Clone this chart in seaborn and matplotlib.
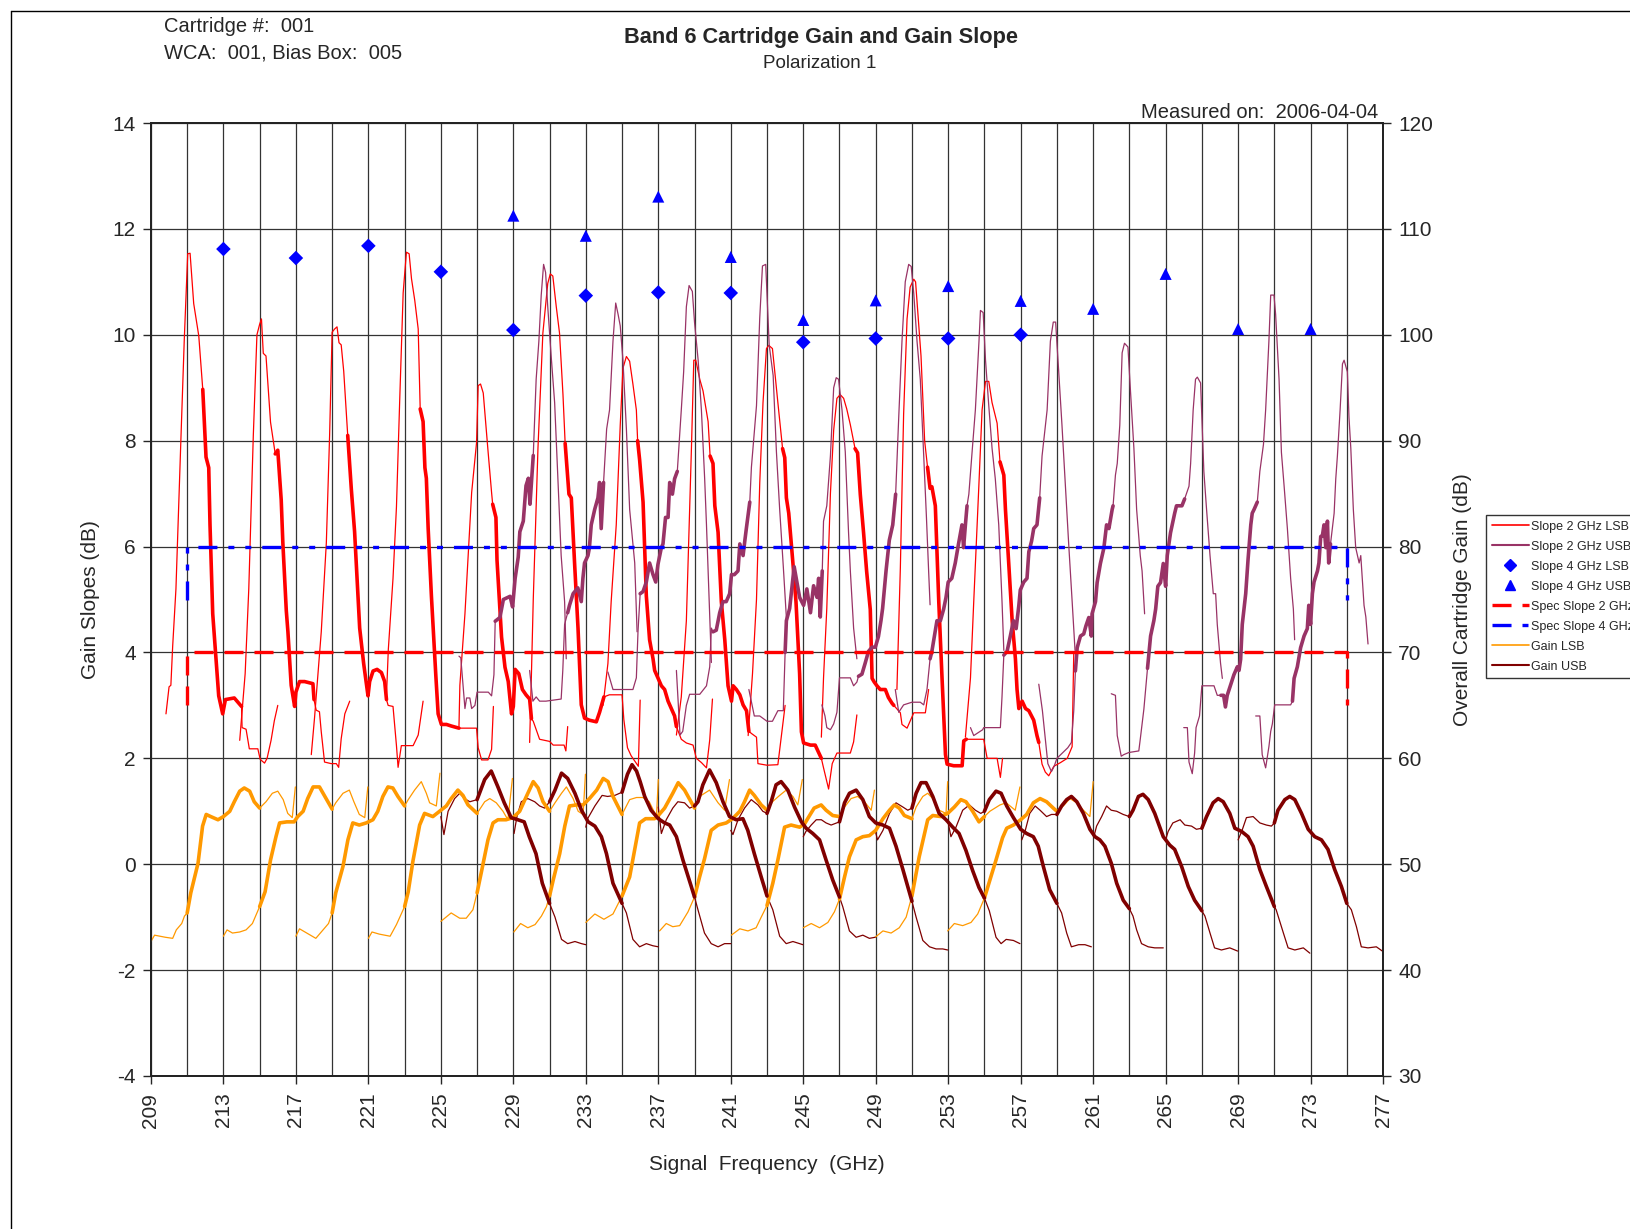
import numpy as np
import pandas as pd
import matplotlib
matplotlib.use("Agg")
import matplotlib.pyplot as plt
from matplotlib.lines import Line2D
import seaborn as sns

# ---------------- data ----------------
lo_freqs = [221, 225, 229, 233, 237, 241, 245, 249, 253, 257, 261, 265]

# Gain LSB (dB), one list per LO setting
gain_lsb_freq = [
    [209.0, 209.2, 209.5, 209.8, 210.2, 210.4, 210.7, 210.85, 211.0, 211.2, 211.6, 211.85, 212.05, 212.3, 212.7, 213.0, 213.35, 213.6, 213.9, 214.15, 214.45, 214.7, 215.0, 215.35, 215.7, 216.0, 216.3, 216.55, 216.8, 216.97],
    [213.0, 213.2, 213.5, 213.9, 214.25, 214.6, 215.0, 215.3, 215.6, 215.9, 216.1, 216.5, 216.9, 217.1, 217.4, 217.65, 217.95, 218.3, 218.6, 219.0, 219.2, 219.6, 219.95, 220.2, 220.5, 220.8, 220.97],
    [217.0, 217.2, 217.6, 218.1, 218.4, 218.8, 219.0, 219.2, 219.6, 219.87, 220.14, 220.5, 220.88, 221.25, 221.52, 221.8, 222.08, 222.35, 222.63, 223.0, 223.2, 223.55, 223.92, 224.2, 224.38, 224.75, 224.95],
    [221.0, 221.2, 221.6, 222.2, 222.55, 223.0, 223.2, 223.46, 223.83, 224.1, 224.56, 224.93, 225.3, 225.57, 225.94, 226.22, 226.5, 227.0, 227.42, 227.7, 228.06, 228.43, 228.7, 228.95],
    [225.0, 225.57, 226.04, 226.4, 226.77, 227.0, 227.23, 227.6, 227.88, 228.15, 228.6, 228.98, 229.35, 229.72, 230.1, 230.37, 230.64, 231.0, 231.3, 231.66, 231.93, 232.3, 232.58, 232.85, 232.98],
    [229.03, 229.4, 229.8, 230.2, 230.55, 230.83, 231.0, 231.2, 231.56, 231.84, 232.1, 232.48, 232.85, 233.2, 233.6, 233.96, 234.23, 234.5, 235.0, 235.42, 235.8, 236.15, 236.5, 236.9, 237.0],
    [233.0, 233.5, 234.0, 234.5, 235.0, 235.42, 235.97, 236.3, 236.8, 237.0, 237.35, 237.8, 238.1, 238.45, 239.0, 239.37, 239.83, 240.3, 240.66, 240.93],
    [237.07, 237.44, 237.8, 238.18, 238.64, 239.0, 239.28, 239.55, 239.92, 240.3, 240.75, 241.1, 241.5, 241.76, 242.04, 242.3, 242.68, 243.0, 243.3, 243.7, 244.06, 244.43, 244.7, 244.95],
    [241.03, 241.5, 241.95, 242.4, 242.68, 243.0, 243.32, 243.6, 243.97, 244.33, 244.8, 245.07, 245.35, 245.6, 245.99, 246.26, 246.63, 247.0, 247.28, 247.64, 248.0, 248.38, 248.75, 248.93],
    [245.0, 245.44, 245.9, 246.36, 246.72, 247.0, 247.28, 247.55, 247.92, 248.29, 248.65, 249.0, 249.4, 249.76, 250.03, 250.3, 250.58, 251.0, 251.23, 251.6, 251.87, 252.15, 252.5, 252.88, 252.97],
    [248.97, 249.4, 249.85, 250.3, 250.68, 251.0, 251.4, 251.87, 252.15, 252.6, 252.97, 253.34, 253.7, 253.98, 254.35, 254.7, 255.0, 255.3, 255.86, 256.2, 256.7, 256.96],
    [252.97, 253.34, 253.8, 254.26, 254.63, 255.0, 255.3, 255.64, 256.0, 256.23, 256.6, 257.0, 257.33, 257.7, 258.07, 258.43, 258.8, 259.0, 259.35, 259.72, 260.1, 260.46, 260.82, 261.0],
]
gain_lsb_db = [
    [42.7, 43.3, 43.2, 43.1, 43.0, 43.8, 44.4, 45.1, 45.4, 47.3, 50.1, 53.6, 54.7, 54.5, 54.2, 54.5, 55.0, 55.9, 56.9, 57.2, 56.9, 55.9, 55.3, 55.9, 56.7, 56.9, 56.1, 54.8, 54.4, 57.3],
    [43.2, 43.8, 43.5, 43.6, 43.8, 44.4, 46.0, 47.4, 50.4, 52.6, 53.9, 54.0, 54.0, 54.5, 55.0, 56.2, 57.3, 57.3, 56.4, 55.2, 55.8, 56.7, 57.0, 55.9, 54.7, 54.4, 57.3],
    [43.2, 43.9, 43.5, 43.0, 43.6, 44.4, 45.4, 47.3, 49.8, 52.3, 53.9, 53.7, 53.9, 54.2, 55.0, 56.4, 57.3, 57.2, 56.4, 55.5, 56.1, 57.0, 57.8, 56.7, 55.8, 55.5, 58.6],
    [43.0, 43.6, 43.4, 43.2, 44.3, 46.0, 47.4, 50.3, 53.7, 54.8, 54.5, 55.0, 55.5, 56.2, 57.0, 56.5, 55.6, 54.8, 55.9, 56.2, 55.8, 55.0, 54.2, 58.1],
    [44.6, 45.4, 44.9, 44.9, 45.7, 47.3, 49.2, 52.3, 53.9, 54.2, 54.2, 54.4, 55.0, 56.4, 57.8, 57.2, 55.9, 55.0, 55.8, 56.7, 57.3, 56.2, 55.0, 54.7, 58.5],
    [43.6, 44.4, 44.0, 44.3, 45.1, 46.0, 47.0, 48.5, 51.0, 53.6, 55.5, 55.6, 55.6, 56.2, 57.0, 58.1, 57.8, 56.4, 54.7, 56.1, 56.3, 56.3, 55.9, 54.5, 58.0],
    [44.5, 45.3, 44.8, 45.3, 47.0, 48.8, 53.9, 54.3, 54.3, 54.6, 55.3, 56.7, 57.7, 57.0, 55.3, 56.5, 57.0, 55.8, 55.1, 58.0],
    [43.7, 44.4, 44.1, 44.2, 45.5, 46.9, 48.8, 50.5, 53.2, 53.7, 53.9, 54.3, 55.0, 55.9, 57.0, 56.5, 55.6, 55.1, 55.9, 56.5, 57.0, 56.4, 55.6, 58.0],
    [43.3, 43.9, 43.7, 44.0, 45.0, 46.1, 48.2, 50.4, 53.5, 53.7, 53.5, 53.8, 54.6, 55.3, 55.6, 55.1, 54.6, 54.5, 55.4, 56.2, 56.4, 55.9, 55.1, 57.0],
    [44.0, 44.4, 44.0, 44.5, 45.5, 46.7, 48.8, 50.7, 52.3, 52.6, 52.7, 53.2, 54.3, 55.1, 55.6, 55.3, 54.6, 54.3, 55.4, 56.4, 56.7, 56.2, 55.1, 54.8, 57.8],
    [43.1, 43.7, 43.5, 44.0, 45.0, 47.0, 50.7, 54.2, 54.6, 54.5, 54.8, 55.4, 56.1, 55.9, 55.0, 54.0, 54.5, 55.0, 55.6, 55.8, 55.1, 57.3],
    [43.7, 44.4, 44.2, 44.5, 45.3, 46.8, 48.5, 50.4, 52.5, 53.4, 53.7, 54.2, 54.7, 55.8, 56.2, 55.9, 55.3, 55.0, 55.5, 56.2, 55.8, 55.1, 54.5, 57.8],
]

# Gain USB (dB)
gain_usb_freq = [
    [225.0, 225.17, 225.4, 225.76, 226.04, 226.3, 226.6, 227.0, 227.42, 227.78, 228.15, 228.5, 228.88, 229.25, 229.6, 229.88, 230.25, 230.6, 231.0, 231.3, 231.66, 232.0, 232.4, 232.76, 233.0],
    [229.04, 229.2, 229.44, 229.8, 230.18, 230.45, 230.73, 231.0, 231.3, 231.66, 232.0, 232.4, 232.76, 233.13, 233.5, 233.86, 234.14, 234.5, 235.0, 235.24, 235.6, 235.97, 236.34, 236.7, 237.0],
    [233.0, 233.1, 233.5, 233.9, 234.2, 234.6, 235.0, 235.3, 235.55, 235.8, 236.0, 236.25, 236.6, 237.0, 237.35, 237.63, 238.0, 238.36, 238.82, 239.0, 239.19, 239.55, 239.92, 240.3, 240.66, 241.0],
    [237.0, 237.17, 237.44, 237.8, 238.08, 238.45, 238.73, 239.0, 239.19, 239.46, 239.83, 240.2, 240.57, 240.93, 241.3, 241.67, 241.94, 242.3, 242.68, 243.0, 243.32, 243.7, 244.06, 244.43, 244.8, 244.98],
    [241.0, 241.12, 241.4, 241.76, 242.13, 242.5, 242.77, 243.0, 243.23, 243.5, 243.78, 244.15, 244.52, 244.9, 245.16, 245.53, 245.9, 246.26, 246.63, 247.0, 247.18, 247.55, 247.92, 248.29, 248.65, 248.97],
    [245.0, 245.15, 245.44, 245.72, 246.0, 246.26, 246.54, 247.0, 247.28, 247.55, 247.92, 248.29, 248.65, 249.0, 249.4, 249.76, 250.12, 250.5, 251.0, 251.23, 251.6, 251.97, 252.33, 252.7, 252.97],
    [248.97, 249.1, 249.4, 249.76, 250.12, 250.5, 250.77, 251.0, 251.23, 251.5, 251.78, 252.15, 252.5, 252.88, 253.25, 253.6, 253.98, 254.35, 254.7, 255.0, 255.27, 255.64, 255.92, 256.2, 256.6, 256.96],
    [252.97, 253.15, 253.43, 253.8, 254.17, 254.5, 254.8, 255.0, 255.27, 255.64, 255.92, 256.23, 256.6, 257.0, 257.33, 257.7, 257.97, 258.25, 258.6, 259.0, 259.26, 259.54, 259.8, 260.2, 260.55, 260.9],
    [257.06, 257.24, 257.5, 257.8, 258.07, 258.43, 258.7, 259.0, 259.26, 259.54, 259.8, 260.1, 260.46, 260.82, 261.1, 261.37, 261.65, 262.0, 262.3, 262.66, 263.0, 263.2, 263.4, 263.67, 264.04, 264.4, 264.87],
    [261.04, 261.19, 261.47, 261.74, 262.0, 262.3, 262.66, 263.0, 263.2, 263.5, 263.75, 264.04, 264.4, 264.87, 265.23, 265.5, 265.88, 266.25, 266.6, 267.0, 267.17, 267.45, 267.7, 268.08, 268.54, 268.97],
    [265.0, 265.14, 265.4, 265.8, 266.06, 266.43, 266.7, 267.0, 267.26, 267.62, 267.9, 268.18, 268.54, 268.82, 269.19, 269.55, 269.83, 270.2, 270.56, 271.0, 271.1, 271.5, 271.76, 272.13, 272.6, 272.96],
    [269.0, 269.2, 269.46, 269.83, 270.2, 270.56, 270.84, 271.0, 271.2, 271.58, 271.85, 272.13, 272.5, 272.87, 273.23, 273.6, 273.96, 274.33, 274.7, 275.0, 275.25, 275.53, 275.8, 276.17, 276.63, 276.96],
]
gain_usb_db = [
    [54.5, 52.8, 55.0, 56.2, 56.7, 56.2, 55.9, 56.1, 58.0, 58.8, 57.3, 55.8, 54.4, 54.2, 54.0, 52.6, 51.0, 48.2, 46.3, 45.0, 42.9, 42.5, 42.7, 42.5, 42.4],
    [52.9, 54.5, 55.9, 56.2, 55.9, 55.5, 55.3, 55.9, 57.0, 58.6, 58.1, 56.7, 55.1, 54.0, 53.6, 52.6, 51.0, 48.2, 46.3, 45.4, 42.9, 42.2, 42.5, 42.3, 42.2],
    [53.5, 54.3, 55.5, 56.5, 56.4, 56.5, 56.8, 58.5, 59.4, 58.8, 57.8, 56.4, 55.1, 54.3, 53.9, 53.7, 52.6, 50.4, 47.9, 46.9, 45.7, 43.5, 42.5, 42.2, 42.5, 42.5],
    [55.4, 52.9, 54.2, 55.3, 55.9, 55.8, 55.3, 55.5, 55.9, 57.5, 58.9, 57.7, 55.9, 54.5, 54.2, 54.3, 53.2, 51.0, 48.8, 47.0, 45.7, 43.2, 42.5, 42.7, 42.5, 42.4],
    [53.2, 52.8, 54.2, 55.3, 56.1, 55.6, 55.0, 54.8, 55.9, 57.5, 57.8, 57.0, 55.4, 54.0, 53.4, 52.9, 52.3, 50.4, 48.5, 46.9, 46.0, 43.7, 43.1, 43.3, 43.0, 43.1],
    [52.6, 53.1, 53.7, 54.2, 54.2, 53.9, 53.7, 54.0, 55.8, 56.7, 57.0, 56.1, 54.5, 53.9, 53.7, 53.4, 51.7, 49.5, 46.5, 45.0, 42.8, 42.2, 42.0, 42.0, 41.9],
    [53.2, 52.3, 53.2, 54.8, 55.8, 55.4, 55.1, 55.3, 56.7, 57.7, 57.7, 56.4, 54.8, 54.2, 53.5, 52.9, 51.3, 49.4, 47.8, 46.8, 45.6, 43.1, 42.5, 42.9, 42.8, 42.5],
    [54.2, 52.6, 53.5, 55.1, 55.6, 55.1, 54.8, 55.0, 56.1, 56.9, 56.7, 55.5, 54.4, 53.3, 52.9, 52.6, 51.7, 49.8, 47.6, 46.3, 45.4, 43.5, 42.2, 42.4, 42.4, 42.2],
    [52.3, 53.1, 54.8, 55.5, 55.1, 54.5, 54.7, 54.7, 55.5, 56.1, 56.4, 55.9, 54.8, 53.3, 52.6, 52.3, 51.7, 50.1, 48.2, 46.6, 45.8, 45.1, 43.8, 42.5, 42.2, 42.1, 42.1],
    [52.6, 53.6, 54.5, 55.5, 55.1, 55.0, 54.7, 54.5, 55.1, 56.4, 56.6, 56.1, 54.8, 52.6, 51.8, 51.4, 49.8, 47.9, 46.6, 45.6, 45.1, 43.5, 42.1, 41.9, 42.1, 41.8],
    [52.3, 53.1, 53.9, 54.2, 53.7, 53.6, 53.3, 53.4, 54.5, 55.8, 56.2, 55.9, 54.8, 53.4, 53.1, 52.6, 51.7, 49.5, 47.9, 46.0, 45.7, 43.5, 42.1, 41.9, 42.1, 41.6],
    [52.3, 53.1, 54.4, 54.5, 53.9, 53.7, 53.6, 53.9, 55.1, 56.1, 56.4, 56.1, 54.8, 53.3, 52.6, 52.3, 51.4, 49.5, 47.9, 46.3, 45.7, 44.1, 42.2, 42.1, 42.2, 41.8],
]

# Slope 2 GHz LSB (dB)
slope_lsb_freq = [
    [209.83, 210.0, 210.1, 210.2, 210.38, 210.66, 210.84, 211.03, 211.16, 211.36, 211.64, 211.86, 212.04, 212.19, 212.26, 212.41, 212.74, 212.96, 213.11, 213.6, 214.0, 214.03, 214.25, 214.43, 214.9, 215.03, 215.27, 215.41, 215.63, 215.81, 216.0],
    [213.9, 214.2, 214.4, 214.65, 214.85, 215.0, 215.1, 215.2, 215.35, 215.6, 215.86, 216.0, 216.19, 216.28, 216.47, 216.56, 216.74, 216.93, 217.0, 217.2, 217.48, 217.94, 218.0, 218.12, 218.3, 218.4, 218.58, 218.95, 219.23, 219.36, 219.5, 219.7, 219.97],
    [217.85, 218.03, 218.4, 218.68, 218.86, 219.0, 219.14, 219.27, 219.38, 219.5, 219.64, 219.86, 220.06, 220.24, 220.52, 220.74, 220.98, 221.07, 221.26, 221.48, 221.72, 221.9, 222.0, 222.09, 222.36, 222.55, 222.64, 222.82, 223.47, 223.75, 224.02],
    [222.0, 222.1, 222.36, 222.55, 222.73, 222.92, 223.1, 223.25, 223.38, 223.56, 223.75, 223.86, 224.02, 224.12, 224.2, 224.3, 224.48, 224.72, 224.85, 225.03, 225.31, 225.58, 226.0, 226.97, 227.06, 227.25, 227.6, 227.8, 227.9],
    [226.0, 226.05, 226.33, 226.7, 226.97, 227.06, 227.19, 227.34, 227.6, 227.8, 227.86, 228.04, 228.1, 228.35, 228.54, 228.72, 228.9, 229.0, 229.1, 229.3, 229.5, 229.7, 229.9, 230.0, 230.1, 230.45, 231.0, 231.2, 231.8, 231.9, 232.0],
    [229.9, 230.0, 230.1, 230.36, 230.63, 230.9, 231.04, 231.18, 231.37, 231.55, 231.74, 231.86, 232.07, 232.2, 232.38, 232.57, 232.75, 232.93, 233.2, 233.58, 233.76, 234.0, 234.3, 235.0, 235.1, 235.3, 235.5, 235.9, 236.0],
    [233.95, 234.22, 234.4, 234.68, 234.9, 235.05, 235.24, 235.42, 235.6, 235.79, 235.86, 235.97, 236.16, 236.34, 236.52, 236.71, 236.8, 236.98, 237.17, 237.35, 237.54, 237.72, 237.9, 238.0, 238.27, 238.55, 238.92, 239.1, 239.38, 239.66, 239.84, 239.99],
    [238.0, 238.27, 238.55, 238.83, 238.96, 239.07, 239.29, 239.47, 239.75, 239.86, 240.02, 240.12, 240.3, 240.48, 240.67, 240.85, 241.04, 241.13, 241.31, 241.5, 241.68, 241.87, 242.0, 242.14, 242.42, 242.5, 243.0, 243.6, 243.75, 244.0],
    [241.96, 242.2, 242.42, 242.6, 242.78, 242.97, 243.1, 243.3, 243.43, 243.6, 243.86, 243.98, 244.07, 244.2, 244.43, 244.6, 244.8, 244.9, 245.02, 245.4, 245.66, 245.85, 246.0, 246.1, 246.4, 246.6, 246.86, 247.6, 247.78, 247.96],
    [246.0, 246.12, 246.3, 246.5, 246.68, 246.86, 247.04, 247.23, 247.4, 247.6, 247.86, 248.0, 248.15, 248.33, 248.5, 248.7, 248.8, 248.92, 249.07, 249.25, 249.53, 249.7, 249.9, 250.0, 250.36, 250.45, 250.73, 251.1, 251.74, 251.83, 251.92],
    [250.17, 250.36, 250.54, 250.73, 250.9, 251.1, 251.2, 251.35, 251.5, 251.7, 251.86, 252.0, 252.1, 252.29, 252.48, 252.66, 252.85, 252.94, 253.3, 253.77, 253.86, 254.0, 254.41, 254.96, 255.15, 255.7, 255.88, 256.0],
    [253.95, 254.23, 254.41, 254.69, 254.87, 255.06, 255.24, 255.42, 255.7, 255.86, 256.07, 256.16, 256.34, 256.53, 256.71, 256.8, 256.9, 257.08, 257.27, 257.45, 257.72, 257.9, 258.0, 258.18, 258.36, 258.55, 258.83, 259.2, 259.57, 259.84, 259.93],
]
slope_lsb_val = [
    [2.84, 3.35, 3.38, 4.12, 5.2, 8.09, 9.91, 11.53, 11.54, 10.59, 9.98, 8.97, 7.69, 7.49, 6.41, 4.73, 3.18, 2.84, 3.11, 3.14, 2.98, 2.58, 2.55, 2.18, 2.18, 1.98, 1.91, 2.0, 2.34, 2.71, 3.0],
    [2.34, 3.6, 5.2, 8.1, 10.0, 10.2, 10.3, 9.65, 9.6, 8.35, 7.75, 7.82, 6.88, 6.07, 4.79, 4.39, 3.38, 2.98, 3.25, 3.45, 3.45, 3.41, 3.11, 2.91, 2.88, 2.5, 1.93, 1.9, 1.9, 1.83, 2.37, 2.84, 3.08],
    [2.07, 2.77, 4.39, 6.07, 8.09, 10.05, 10.11, 10.15, 9.85, 9.81, 9.31, 8.1, 7.08, 6.28, 4.46, 3.79, 3.18, 3.45, 3.65, 3.68, 3.62, 3.45, 3.11, 3.0, 2.98, 2.24, 1.83, 2.24, 2.24, 2.44, 3.08],
    [3.18, 4.05, 5.4, 6.75, 8.77, 10.79, 11.56, 11.53, 11.06, 10.65, 10.11, 8.6, 8.36, 7.49, 7.29, 6.34, 5.06, 3.58, 2.84, 2.64, 2.64, 2.61, 2.57, 2.57, 2.2, 1.97, 1.97, 2.17, 2.98],
    [2.6, 3.38, 4.73, 7.02, 7.96, 9.04, 9.07, 8.9, 7.82, 7.02, 6.8, 6.55, 5.74, 4.29, 3.72, 3.45, 2.84, 2.98, 3.68, 3.6, 3.3, 3.2, 3.12, 2.75, 2.7, 2.36, 2.32, 2.25, 2.25, 2.14, 2.6],
    [2.3, 3.6, 5.0, 7.86, 10.03, 10.97, 11.15, 11.11, 10.53, 10.03, 8.87, 7.95, 6.99, 6.92, 5.69, 4.46, 3.01, 2.76, 2.72, 2.69, 2.87, 3.16, 3.2, 3.2, 2.73, 2.2, 2.05, 1.85, 3.1],
    [3.0, 3.79, 4.96, 6.41, 8.29, 9.37, 9.59, 9.5, 9.07, 8.58, 8.0, 7.64, 6.84, 5.07, 4.24, 3.88, 3.66, 3.52, 3.37, 3.3, 3.08, 2.94, 2.8, 2.6, 2.36, 2.29, 2.25, 2.0, 1.92, 1.82, 2.35, 3.12],
    [2.44, 3.16, 4.6, 7.86, 9.52, 9.52, 9.16, 8.94, 8.36, 7.71, 7.57, 6.77, 6.27, 4.96, 4.24, 3.37, 3.08, 3.37, 3.3, 3.2, 3.01, 2.9, 2.51, 2.47, 2.4, 1.9, 1.87, 1.88, 2.3, 3.0],
    [2.43, 3.6, 5.0, 7.2, 8.72, 9.74, 9.8, 9.74, 9.3, 8.72, 7.85, 7.68, 6.92, 6.63, 5.69, 4.96, 3.6, 2.5, 2.29, 2.25, 2.25, 2.11, 2.0, 1.85, 1.42, 1.9, 2.1, 2.1, 2.31, 2.82],
    [2.4, 3.52, 4.83, 7.0, 8.2, 8.8, 8.87, 8.8, 8.6, 8.3, 7.85, 7.77, 6.98, 6.26, 5.53, 4.81, 3.51, 3.44, 3.37, 3.3, 3.3, 3.15, 3.04, 3.0, 2.86, 2.64, 2.57, 2.86, 2.86, 3.08, 3.3],
    [3.3, 5.6, 8.5, 10.3, 10.9, 11.05, 11.0, 10.3, 9.6, 8.0, 7.5, 7.1, 7.13, 6.77, 4.96, 3.52, 2.07, 1.89, 1.86, 1.86, 2.33, 2.36, 2.36, 2.36, 2.0, 2.0, 1.64, 2.0],
    [2.4, 3.52, 4.96, 7.13, 8.58, 9.12, 9.12, 8.72, 8.33, 7.6, 7.35, 6.7, 5.69, 4.6, 3.88, 3.3, 2.94, 3.08, 2.94, 2.9, 2.72, 2.43, 2.3, 1.89, 1.74, 1.67, 1.85, 1.92, 2.0, 2.22, 4.0],
]

# Slope 2 GHz USB (dB)
slope_usb_freq = [
    [226.0, 226.1, 226.33, 226.42, 226.6, 226.7, 226.88, 227.0, 227.62, 227.8, 227.93, 228.0, 228.26, 228.45, 228.82, 228.96, 229.1, 229.27, 229.36, 229.55, 229.7, 229.83, 229.92, 230.1, 230.26, 230.41, 230.54, 230.67, 230.78, 230.9, 231.09, 231.28, 231.46, 231.64, 231.83, 231.92],
    [229.9, 230.08, 230.26, 230.45, 230.8, 231.64, 231.73, 231.83, 232.0, 232.1, 232.3, 232.56, 232.75, 232.84, 232.93, 233.12, 233.2, 233.3, 233.49, 233.67, 233.76, 233.85, 233.98, 234.15, 234.31, 234.5, 234.65, 234.78, 234.9, 235.05, 235.24, 235.42, 235.7, 235.83],
    [234.22, 234.5, 234.68, 235.6, 235.79, 235.88, 236.0, 236.16, 236.34, 236.52, 236.71, 236.86, 236.98, 237.17, 237.26, 237.4, 237.54, 237.63, 237.78, 237.9, 238.05, 238.27, 238.4, 238.55, 238.7, 238.88, 239.0, 239.2, 239.38, 239.56, 239.66, 239.84, 239.93],
    [238.0, 238.2, 238.35, 238.55, 238.73, 239.29, 239.66, 239.84, 239.93, 240.02, 240.2, 240.39, 240.57, 240.75, 240.94, 241.04, 241.2, 241.4, 241.5, 241.68, 241.78, 241.86, 242.05, 242.14, 242.42, 242.6, 242.75, 242.93, 243.12, 243.34, 243.52, 243.7, 243.9, 244.08],
    [242.0, 242.3, 242.6, 243.0, 243.3, 243.6, 243.9, 244.0, 244.07, 244.25, 244.5, 244.8, 245.02, 245.2, 245.4, 245.57, 245.76, 245.85, 245.94, 246.05, 246.12, 246.3, 246.5, 246.68, 246.82, 246.95, 247.14, 247.32, 247.5, 247.6, 247.78, 247.96],
    [246.03, 246.2, 246.3, 246.5, 246.68, 246.86, 247.0, 247.6, 247.78, 247.96, 248.05, 248.24, 248.42, 248.6, 248.8, 248.98, 249.15, 249.29, 249.38, 249.57, 249.75, 249.94, 250.1, 250.27, 250.45, 250.63, 250.82, 250.96, 251.1, 251.28, 251.46, 251.65, 251.8, 251.92, 252.0],
    [250.08, 250.27, 250.54, 251.0, 251.46, 251.65, 251.83, 252.0, 252.1, 252.38, 252.57, 252.75, 252.88, 253.0, 253.2, 253.39, 253.57, 253.76, 253.85, 253.95, 254.04, 254.14, 254.32, 254.5, 254.7, 254.78, 254.93, 255.06, 255.24, 255.42, 255.6, 255.79, 255.88, 255.97, 256.07],
    [254.23, 254.41, 254.9, 254.96, 255.88, 255.97, 256.07, 256.25, 256.43, 256.6, 256.75, 256.9, 256.98, 257.17, 257.35, 257.45, 257.6, 257.72, 257.9, 258.05, 258.18, 258.46, 258.64, 258.8, 258.93, 259.1, 259.28, 259.47, 259.65, 259.84, 260.0],
    [258.0, 258.2, 258.5, 258.7, 258.85, 259.0, 259.6, 259.8, 259.93, 260.02, 260.12, 260.3, 260.48, 260.6, 260.76, 260.9, 260.94, 261.13, 261.22, 261.4, 261.59, 261.74, 261.87, 262.05, 262.1, 262.23, 262.33, 262.47, 262.6, 262.73, 262.92, 263.06, 263.25, 263.4, 263.6, 263.7, 263.84],
    [262.0, 262.23, 262.33, 262.55, 262.69, 262.97, 263.52, 263.6, 263.8, 264.0, 264.17, 264.35, 264.45, 264.57, 264.72, 264.87, 265.0, 265.09, 265.27, 265.5, 265.6, 265.73, 265.9, 266.05, 266.29, 266.38, 266.52, 266.65, 266.75, 266.93, 267.11, 267.26, 267.45, 267.63, 267.76, 267.85, 268.03, 268.13],
    [266.0, 266.2, 266.29, 266.47, 266.6, 266.68, 266.87, 267.0, 267.67, 267.85, 268.05, 268.2, 268.3, 268.4, 268.6, 268.77, 268.96, 269.05, 269.14, 269.23, 269.42, 269.55, 269.7, 269.78, 269.88, 270.06, 270.2, 270.4, 270.52, 270.7, 270.8, 270.98, 271.07, 271.26, 271.39, 271.54, 271.72, 271.9, 272.05, 272.12],
    [269.97, 270.2, 270.33, 270.52, 270.7, 270.8, 270.89, 271.02, 271.9, 272.0, 272.09, 272.27, 272.45, 272.64, 272.82, 272.9, 273.0, 273.1, 273.19, 273.38, 273.46, 273.56, 273.65, 273.74, 273.84, 273.93, 274.0, 274.1, 274.3, 274.39, 274.48, 274.63, 274.76, 274.85, 275.03, 275.12, 275.22, 275.36, 275.49, 275.68, 275.77, 275.95, 276.05, 276.17],
]
slope_usb_val = [
    [3.93, 3.9, 2.94, 3.14, 3.14, 2.94, 3.0, 3.25, 3.25, 3.18, 3.58, 4.59, 4.66, 5.0, 5.06, 4.86, 5.4, 5.8, 6.28, 6.48, 7.15, 7.29, 6.8, 7.72, 9.16, 9.88, 10.75, 11.33, 11.18, 10.53, 9.59, 8.72, 7.28, 5.83, 4.96, 3.88],
    [3.66, 3.08, 3.16, 3.08, 3.08, 3.12, 3.66, 4.53, 4.75, 4.89, 5.11, 5.22, 4.96, 5.4, 5.69, 5.83, 5.98, 6.41, 6.7, 6.92, 7.21, 6.34, 7.21, 8.22, 8.58, 9.88, 10.6, 10.39, 10.17, 9.52, 8.22, 6.7, 5.69, 4.39],
    [3.63, 3.3, 3.3, 3.3, 3.52, 4.39, 5.11, 5.15, 5.33, 5.69, 5.47, 5.33, 5.66, 5.98, 6.05, 6.55, 6.55, 7.21, 6.99, 7.28, 7.42, 8.58, 9.3, 10.53, 10.93, 10.82, 10.24, 9.52, 8.58, 7.28, 6.41, 4.68, 3.81],
    [3.66, 2.44, 2.51, 3.0, 3.21, 3.21, 3.37, 3.73, 4.46, 4.39, 4.42, 4.75, 4.96, 4.96, 5.11, 5.47, 5.47, 5.54, 6.05, 5.83, 6.12, 6.34, 6.84, 7.5, 8.66, 10.32, 11.3, 11.33, 9.81, 9.23, 7.79, 6.7, 5.62, 4.6],
    [3.3, 2.8, 2.8, 2.7, 2.7, 2.9, 2.9, 4.0, 4.6, 4.83, 5.62, 5.04, 4.89, 5.2, 4.75, 5.26, 5.04, 5.4, 4.67, 5.54, 6.48, 6.77, 7.71, 9.0, 9.19, 9.16, 8.58, 7.79, 6.27, 5.54, 4.46, 3.88],
    [3.01, 2.8, 2.58, 2.54, 2.65, 2.87, 3.52, 3.52, 3.37, 3.44, 3.55, 3.59, 3.8, 4.02, 4.1, 4.1, 4.3, 4.6, 4.83, 5.54, 6.12, 6.41, 6.99, 8.44, 9.88, 11.0, 11.33, 11.29, 10.78, 9.88, 9.16, 7.71, 6.55, 5.54, 4.9],
    [3.3, 2.87, 3.01, 3.06, 3.06, 3.01, 3.3, 3.88, 4.02, 4.6, 4.6, 4.82, 5.04, 5.33, 5.4, 5.69, 6.05, 6.41, 5.98, 6.41, 6.77, 6.99, 7.79, 8.58, 9.88, 10.46, 10.42, 9.52, 8.66, 7.86, 7.28, 6.41, 5.69, 4.97, 4.04],
    [2.58, 2.43, 2.54, 2.58, 2.58, 3.16, 3.95, 4.02, 4.31, 4.6, 4.45, 4.89, 5.18, 5.33, 5.4, 5.9, 6.1, 6.34, 6.41, 6.92, 7.71, 8.58, 9.88, 10.24, 10.24, 9.3, 8.29, 7.14, 6.05, 4.97, 4.04],
    [3.4, 2.9, 1.9, 1.75, 1.85, 2.0, 2.2, 2.3, 2.9, 3.65, 4.09, 4.31, 4.35, 4.5, 4.66, 4.31, 4.73, 4.96, 5.32, 5.68, 5.97, 6.41, 6.34, 6.7, 6.77, 7.35, 7.57, 8.29, 9.66, 9.84, 9.77, 8.94, 7.85, 6.7, 5.83, 5.54, 4.73],
    [3.22, 3.19, 2.43, 2.04, 2.07, 2.11, 2.14, 2.36, 2.93, 3.7, 4.31, 4.6, 4.82, 5.25, 5.32, 5.68, 5.25, 5.83, 6.26, 6.63, 6.77, 6.77, 6.77, 6.9, 7.14, 7.57, 8.58, 9.16, 9.2, 9.09, 7.42, 6.7, 5.83, 5.11, 5.11, 4.53, 3.8, 3.51],
    [2.58, 2.58, 1.93, 1.71, 2.1, 2.58, 2.8, 3.37, 3.37, 3.19, 3.19, 3.19, 2.97, 3.19, 3.4, 3.58, 3.73, 3.66, 3.87, 4.53, 5.11, 5.76, 6.41, 6.63, 6.7, 6.84, 7.42, 7.93, 8.58, 9.88, 10.75, 10.75, 10.39, 9.16, 7.78, 7.14, 6.34, 5.4, 4.82, 4.24],
    [2.8, 2.8, 2.07, 1.82, 2.22, 2.51, 2.65, 3.01, 3.01, 3.08, 3.51, 3.73, 4.09, 4.31, 4.45, 4.89, 4.53, 5.11, 5.33, 5.54, 5.69, 6.19, 6.2, 6.41, 5.98, 6.48, 5.69, 6.05, 6.63, 7.28, 7.71, 8.58, 9.45, 9.52, 9.3, 8.44, 7.86, 6.7, 5.98, 5.69, 5.83, 4.89, 4.67, 4.16],
]

# Slope 4 GHz points
slope4_lsb_freq = [213, 217, 221, 225, 229, 233, 237, 241, 245, 249, 253, 257]
slope4_lsb_val = [11.62, 11.45, 11.68, 11.19, 10.09, 10.74, 10.8, 10.79, 9.86, 9.93, 9.93, 10.0]
slope4_usb_freq = [229, 233, 237, 241, 245, 249, 253, 257, 261, 265, 269, 273]
slope4_usb_val = [12.25, 11.87, 12.61, 11.47, 10.28, 10.65, 10.92, 10.64, 10.49, 11.15, 10.11, 10.11]

# Spec lines
spec_freq = [211, 211, 275, 275]
spec2_val = [3, 4, 4, 3]
spec4_val = [5, 6, 6, 5]

# ---------------- style ----------------
sns.set_theme(style="white")
plt.rcParams["font.family"] = ["Liberation Sans", "DejaVu Sans"]
plt.rcParams["lines.scale_dashes"] = False
plt.rcParams["axes.linewidth"] = 1.3
plt.rcParams["axes.unicode_minus"] = False

C_RED = "#FF0000"
C_PURPLE = "#993366"
C_BLUE = "#0000FF"
C_ORANGE = "#FF9900"
C_MAROON = "#800000"
RED_DASH = (13.7, 7.9)
BLUE_DASH = (13.7, 7.9, 4.3, 7.9, 4.3, 7.9)


def to_frame(freqs, vals, los, sign, band=None):
    rows = []
    for k, (fs, vs, lo) in enumerate(zip(freqs, vals, los)):
        for f, v in zip(fs, vs):
            if_f = sign * (f - lo)
            if band is None or (band[0] - 1e-6 <= if_f <= band[1] + 1e-6):
                rows.append((k, f, v))
    return pd.DataFrame(rows, columns=["seg", "freq", "val"])


fig = plt.figure(figsize=(16.3, 12.29), dpi=100)
ax = fig.add_axes([0.0926, 0.1245, 0.7559, 0.7754])
ax2 = ax.twinx()

# grid
ax.set_axisbelow(True)
ax.set_xlim(209, 277)
ax.set_ylim(-4, 14)
ax.set_xticks(np.arange(209, 278, 4))
ax.set_xticks(np.arange(211, 277, 4), minor=True)
ax.set_yticks(np.arange(-4, 15, 2))
ax.grid(True, which="both", axis="x", color="#333333", lw=0.9)
ax.grid(True, which="major", axis="y", color="#333333", lw=0.9)

# slopes: thin full segments
thin_kw = dict(x="freq", y="val", units="seg", estimator=None, sort=False, legend=False, ax=ax)
sns.lineplot(data=to_frame(slope_lsb_freq, slope_lsb_val, lo_freqs, -1), color=C_RED, lw=0.9, **thin_kw)
sns.lineplot(data=to_frame(slope_usb_freq, slope_usb_val, lo_freqs, 1), color=C_PURPLE, lw=0.9, **thin_kw)
# slopes: thick in-band portions
sns.lineplot(data=to_frame(slope_lsb_freq, slope_lsb_val, lo_freqs, -1, (7.0, 9.15)), color=C_RED, lw=2.6, **thin_kw)
sns.lineplot(data=to_frame(slope_usb_freq, slope_usb_val, lo_freqs, 1, (7.0, 9.1)), color=C_PURPLE, lw=2.6, **thin_kw)

# 4 GHz slope markers
sns.scatterplot(x=slope4_lsb_freq, y=slope4_lsb_val, marker="D", s=55, color=C_BLUE, edgecolor="none", ax=ax, zorder=5)
sns.scatterplot(x=slope4_usb_freq, y=slope4_usb_val, marker="^", s=75, color=C_BLUE, edgecolor="none", ax=ax, zorder=5)

# spec lines
ax.plot(spec_freq, spec2_val, color=C_RED, lw=2.4, dashes=RED_DASH, zorder=4)
ax.plot(spec_freq, spec4_val, color=C_BLUE, lw=2.4, dashes=BLUE_DASH, zorder=4)

# gains on secondary axis
thin_kw2 = dict(x="freq", y="val", units="seg", estimator=None, sort=False, legend=False, ax=ax2)
sns.lineplot(data=to_frame(gain_lsb_freq, gain_lsb_db, lo_freqs, -1), color=C_ORANGE, lw=0.9, **thin_kw2)
sns.lineplot(data=to_frame(gain_usb_freq, gain_usb_db, lo_freqs, 1), color=C_MAROON, lw=0.9, **thin_kw2)
sns.lineplot(data=to_frame(gain_lsb_freq, gain_lsb_db, lo_freqs, -1, (6.0, 10.0)), color=C_ORANGE, lw=2.6, **thin_kw2)
sns.lineplot(data=to_frame(gain_usb_freq, gain_usb_db, lo_freqs, 1, (6.0, 10.0)), color=C_MAROON, lw=2.6, **thin_kw2)
ax2.set_ylim(30, 120)
ax2.set_yticks(np.arange(30, 121, 10))
ax2.grid(False)
ax2.set_xlim(209, 277)

# ticks and labels
for a in (ax, ax2):
    for s in a.spines.values():
        s.set_color("#222222")
        s.set_linewidth(1.3)
ax.tick_params(axis="x", which="major", direction="out", length=6, width=1, pad=6, labelsize=15, labelrotation=90, bottom=True)
ax.tick_params(axis="x", which="minor", length=0)
ax.tick_params(axis="y", direction="out", length=6, width=1, pad=5, labelsize=15, left=True)
ax2.tick_params(axis="y", direction="out", length=6, width=1, pad=5, labelsize=15, right=True)
ax.set_xlabel("Signal  Frequency  (GHz)", fontsize=15, labelpad=20)
ax.set_ylabel("Gain Slopes (dB)", fontsize=15, labelpad=9)
ax2.set_ylabel("Overall Cartridge Gain (dB)", fontsize=15, labelpad=14)

# header texts
fig.text(164 / 1630, 1 - 27 / 1229, "Cartridge #:  001", fontsize=14.5, ha="left", va="center")
fig.text(164 / 1630, 1 - 53 / 1229, "WCA:  001, Bias Box:  005", fontsize=14.5, ha="left", va="center")
fig.text(821 / 1630, 1 - 37 / 1229, "Band 6 Cartridge Gain and Gain Slope", fontsize=15.7, fontweight="bold", ha="center", va="center")
fig.text(820 / 1630, 1 - 64 / 1229, "Polarization 1", fontsize=13.5, ha="center", va="center")
fig.text(1378 / 1630, 1 - 112 / 1229, "Measured on:  2006-04-04", fontsize=14.5, ha="right", va="center")

# outer frame
fy = 1 - 11 / 1229
fx = 11 / 1630
fig.add_artist(Line2D([fx, fx], [0, fy], color="black", lw=1.0, transform=fig.transFigure))
fig.add_artist(Line2D([fx, 1.0], [fy, fy], color="black", lw=1.0, transform=fig.transFigure))

# legend
handles = [
    Line2D([], [], color=C_RED, lw=1.2),
    Line2D([], [], color=C_PURPLE, lw=1.5),
    Line2D([], [], color=C_BLUE, marker="D", ms=6, ls="none"),
    Line2D([], [], color=C_BLUE, marker="^", ms=7, ls="none"),
    Line2D([], [], color=C_RED, lw=2.4, dashes=RED_DASH),
    Line2D([], [], color=C_BLUE, lw=2.4, dashes=BLUE_DASH),
    Line2D([], [], color=C_ORANGE, lw=1.2),
    Line2D([], [], color=C_MAROON, lw=1.5),
]
labels = ["Slope 2 GHz LSB", "Slope 2 GHz USB", "Slope 4 GHz LSB", "Slope 4 GHz USB",
          "Spec Slope 2 GHz", "Spec Slope 4 GHz", "Gain LSB", "Gain USB"]
leg = fig.legend(handles, labels, loc="upper left", bbox_to_anchor=(1486 / 1630, 1 - 515 / 1229),
                 fontsize=9, frameon=True, fancybox=False, shadow=False, handlelength=3.0,
                 handletextpad=0.15, labelspacing=0.64, borderpad=0.45, borderaxespad=0.0)
leg.get_frame().set_edgecolor("black")
leg.get_frame().set_linewidth(1.0)
leg.get_frame().set_facecolor("white")

fig.savefig("out.png", dpi=100)
